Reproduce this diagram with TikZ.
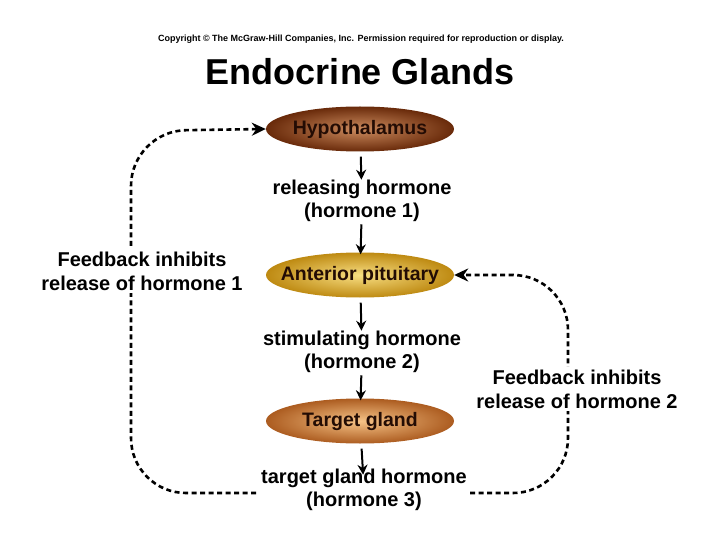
\documentclass[tikz,border=0pt]{standalone}
\usepackage{fontspec}
\setmainfont{Liberation Sans}
\usetikzlibrary{arrows.meta,shapes.geometric,shadings,backgrounds}
\definecolor{hypout}{RGB}{105,42,10}
\definecolor{hypin}{RGB}{205,140,95}
\definecolor{antout}{RGB}{190,138,18}
\definecolor{antin}{RGB}{248,222,130}
\definecolor{tgout}{RGB}{172,92,32}
\definecolor{tgin}{RGB}{246,195,135}
\definecolor{glandtext}{RGB}{35,12,4}
\newcommand{\glandlabel}[1]{\makebox[0pt]{#1}}
\begin{document}
\begin{tikzpicture}[x=1pt,y=-1pt,
  gland/.style={ellipse,minimum width=188pt,minimum height=45pt,inner sep=0pt,
    shading=radial,font=\fontsize{19.5}{22}\selectfont\bfseries,text=glandtext},
  hormtext/.style={align=center,inner sep=0pt,font=\fontsize{20}{23.5}\selectfont\bfseries},
  fbtext/.style={align=center,inner sep=3pt,fill=white,font=\fontsize{20}{24}\selectfont\bfseries},
  step arrow/.style={line width=2pt,-{Stealth[length=10pt,width=10pt]}},
  fb/.style={line width=2.6pt,dash pattern=on 5pt off 3.5pt,rounded corners=55pt,
    -{Stealth[length=14pt,width=13pt]}}]
\useasboundingbox (0,0) rectangle (720,540);
\node (copy) at (361,39) {\fontsize{9}{11}\selectfont\bfseries Copyright © The McGraw-Hill Companies, Inc. Permission required for reproduction or display.};
\node (title) at (360,72) {\fontsize{36}{40}\selectfont\bfseries Endocrine Glands};
\node[gland,inner color=hypin,outer color=hypout] (hyp) at (360,129) {\glandlabel{Hypothalamus}};
\node[hormtext] (rh) at (362,201) {releasing hormone\\(hormone 1)};
\node[gland,inner color=antin,outer color=antout] (ant) at (360,275) {\glandlabel{Anterior pituitary}};
\node[hormtext] (sh) at (362,352) {stimulating hormone\\(hormone 2)};
\node[gland,inner color=tgin,outer color=tgout] (tg) at (360,421) {\glandlabel{Target gland}};
\node[hormtext] (th) at (364,490) {target gland hormone\\(hormone 3)};
\node[fbtext] (fb1) at (142,271) {Feedback inhibits\\release of hormone 1};
\node[fbtext] (fb2) at (577,389) {Feedback inhibits\\release of hormone 2};
\draw[step arrow,shorten <=5pt] (hyp) -- (rh);
\draw[step arrow,shorten <=2pt,shorten >=-2pt] (rh) -- (ant);
\draw[step arrow,shorten <=5pt] (ant) -- (sh);
\draw[step arrow,shorten <=2pt,shorten >=-2pt] (sh) -- (tg);
\draw[step arrow,shorten <=5pt,shorten >=-6pt] (tg) -- (th);
\coordinate (l1) at (256,493);
\coordinate (r1) at (470,493);
\begin{pgfonlayer}{background}
\draw[fb] (l1) -- (131,493) -- (131,131) -- (hyp.west);
\draw[fb] (r1) -- (568,493) -- (568,275) -- (ant.east);
\end{pgfonlayer}
\end{tikzpicture}
\end{document}
